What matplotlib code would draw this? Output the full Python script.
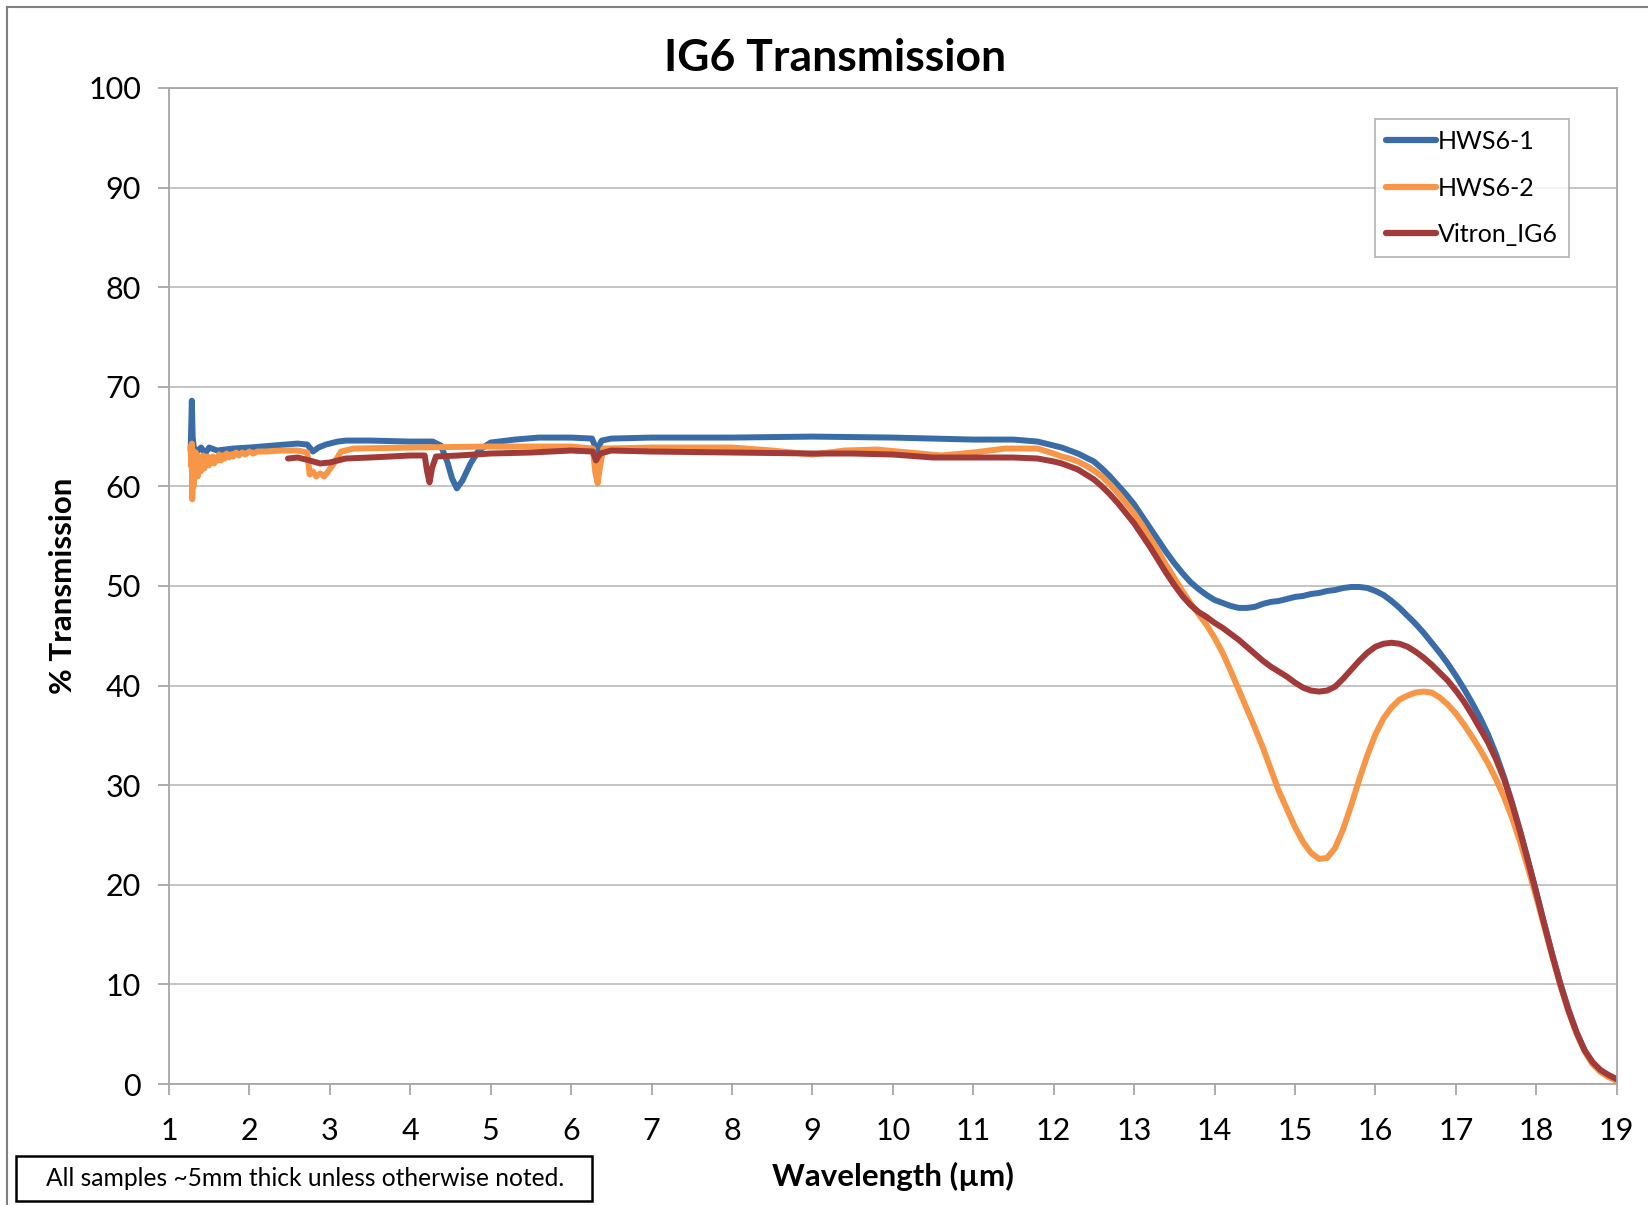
import matplotlib
matplotlib.use('Agg')
import matplotlib.pyplot as plt
from matplotlib.patches import Rectangle
from matplotlib.lines import Line2D

plt.rcParams['font.family'] = ['Lato', 'DejaVu Sans']

# (wavelength um, % transmission)
hws6_1 = [
    (1.27, 63.6), (1.285, 68.6), (1.295, 65.0), (1.31, 63.9), (1.35, 63.5), (1.40, 63.9),
    (1.45, 63.3), (1.50, 63.9), (1.6, 63.6), (1.8, 63.8), (2.0, 63.9), (2.3, 64.1),
    (2.6, 64.3), (2.72, 64.2), (2.79, 63.5), (2.86, 63.9), (2.95, 64.2), (3.1, 64.5),
    (3.2, 64.6), (3.5, 64.6), (4.0, 64.5), (4.28, 64.5), (4.38, 64.1), (4.46, 62.5),
    (4.52, 60.8), (4.58, 59.8), (4.65, 60.6), (4.75, 62.3), (4.85, 63.6), (5.0, 64.4),
    (5.3, 64.7), (5.6, 64.9), (6.0, 64.9), (6.26, 64.8), (6.32, 63.6), (6.38, 64.6),
    (6.5, 64.8), (7.0, 64.9), (8.0, 64.9), (9.0, 65.0), (10.0, 64.9), (11.0, 64.7),
    (11.5, 64.7), (11.8, 64.5),
    (12.0, 64.1), (12.1, 63.9), (12.2, 63.6), (12.3, 63.3), (12.4, 62.9), (12.5, 62.5),
    (12.6, 61.8), (12.7, 61.0), (12.8, 60.1), (12.9, 59.2), (13.0, 58.2), (13.1, 57.0),
    (13.2, 55.8), (13.3, 54.6), (13.4, 53.4), (13.5, 52.3), (13.6, 51.3), (13.7, 50.4),
    (13.8, 49.7), (13.9, 49.1), (14.0, 48.6), (14.1, 48.3), (14.2, 48.0), (14.3, 47.8),
    (14.4, 47.8), (14.5, 47.9), (14.6, 48.2), (14.7, 48.4), (14.8, 48.5), (14.9, 48.7),
    (15.0, 48.9), (15.1, 49.0), (15.2, 49.2), (15.3, 49.3), (15.4, 49.5), (15.5, 49.6),
    (15.6, 49.8), (15.7, 49.9), (15.8, 49.9), (15.9, 49.8), (16.0, 49.5), (16.1, 49.1),
    (16.2, 48.5), (16.3, 47.8), (16.4, 47.0), (16.5, 46.2), (16.6, 45.3), (16.7, 44.3),
    (16.8, 43.3), (16.9, 42.2), (17.0, 41.0), (17.1, 39.7), (17.2, 38.3), (17.3, 36.8),
    (17.4, 35.1), (17.5, 33.1), (17.6, 30.8), (17.7, 28.2), (17.8, 25.4), (17.9, 22.4),
    (18.0, 19.3), (18.1, 16.1), (18.2, 13.0), (18.3, 10.1), (18.4, 7.5), (18.5, 5.2),
    (18.6, 3.4), (18.7, 2.1), (18.8, 1.3), (18.9, 0.8), (19.0, 0.4),
]

hws6_2 = [
    (1.270, 64.0), (1.278, 62.0), (1.285, 64.3), (1.290, 58.7), (1.295, 61.5), (1.300, 63.6),
    (1.305, 60.0), (1.310, 63.2), (1.316, 60.8), (1.322, 62.9), (1.328, 61.2), (1.335, 63.4),
    (1.342, 61.6), (1.350, 62.7), (1.358, 61.0), (1.366, 62.9), (1.375, 61.8), (1.385, 63.0),
    (1.395, 61.5), (1.405, 62.6), (1.415, 62.0), (1.427, 63.1), (1.440, 61.8), (1.453, 62.7),
    (1.467, 62.2), (1.481, 63.0), (1.496, 62.1), (1.512, 62.8), (1.528, 62.4), (1.545, 63.0),
    (1.563, 62.3), (1.582, 62.9), (1.602, 62.6), (1.623, 63.2), (1.645, 62.6), (1.668, 63.1),
    (1.692, 62.8), (1.717, 63.3), (1.743, 62.9), (1.770, 63.2), (1.800, 63.0), (1.835, 63.4),
    (1.870, 63.1), (1.910, 63.4), (1.950, 63.2), (2.0, 63.5), (2.05, 63.3), (2.1, 63.5),
    (2.2, 63.5), (2.4, 63.6), (2.6, 63.6), (2.72, 63.4), (2.75, 61.2), (2.79, 61.5),
    (2.83, 61.0), (2.88, 61.3), (2.93, 61.0), (2.97, 61.4), (3.05, 62.3), (3.14, 63.5),
    (3.3, 63.8), (4.0, 63.9), (5.0, 64.0), (6.0, 64.0), (6.27, 63.8), (6.30, 61.5),
    (6.33, 60.3), (6.36, 62.0), (6.40, 63.8), (7.0, 63.9), (8.0, 63.9), (8.5, 63.6),
    (9.0, 63.2), (9.4, 63.6), (9.8, 63.7), (10.2, 63.4), (10.6, 63.1), (11.0, 63.4),
    (11.4, 63.8), (11.8, 63.8),
    (12.0, 63.3), (12.1, 63.0), (12.2, 62.8), (12.3, 62.5), (12.4, 62.1), (12.5, 61.6),
    (12.6, 61.0), (12.7, 60.2), (12.8, 59.3), (12.9, 58.3), (13.0, 57.3), (13.1, 56.1),
    (13.2, 54.8), (13.3, 53.5), (13.4, 52.1), (13.5, 50.8), (13.6, 49.5), (13.7, 48.3),
    (13.8, 47.2), (13.9, 46.1), (14.0, 44.8), (14.1, 43.3), (14.2, 41.5), (14.3, 39.6),
    (14.4, 37.7), (14.5, 35.8), (14.6, 33.8), (14.7, 31.6), (14.8, 29.4), (14.9, 27.6),
    (15.0, 25.8), (15.1, 24.3), (15.2, 23.2), (15.3, 22.6), (15.4, 22.7), (15.5, 23.7),
    (15.6, 25.6), (15.7, 28.0), (15.8, 30.6), (15.9, 33.0), (16.0, 35.1), (16.1, 36.7),
    (16.2, 37.8), (16.3, 38.6), (16.4, 39.0), (16.5, 39.3), (16.6, 39.4), (16.7, 39.3),
    (16.8, 38.8), (16.9, 38.1), (17.0, 37.2), (17.1, 36.1), (17.2, 34.9), (17.3, 33.6),
    (17.4, 32.2), (17.5, 30.6), (17.6, 28.8), (17.7, 26.7), (17.8, 24.3), (17.9, 21.6),
    (18.0, 18.8), (18.1, 15.8), (18.2, 12.8), (18.3, 9.9), (18.4, 7.3), (18.5, 5.1),
    (18.6, 3.3), (18.7, 2.0), (18.8, 1.2), (18.9, 0.7), (19.0, 0.3),
]

vitron_ig6 = [
    (2.48, 62.8), (2.6, 62.9), (2.75, 62.6), (2.88, 62.3), (3.0, 62.4), (3.2, 62.8),
    (3.5, 62.9), (4.0, 63.1), (4.18, 63.1), (4.21, 61.5), (4.24, 60.4), (4.27, 61.8),
    (4.32, 63.0), (4.6, 63.1), (5.0, 63.3), (5.5, 63.4), (6.0, 63.6), (6.27, 63.5),
    (6.31, 62.6), (6.36, 63.3), (6.5, 63.6), (7.0, 63.5), (8.0, 63.4), (9.0, 63.3),
    (9.5, 63.3), (10.0, 63.2), (10.5, 62.9), (11.0, 62.9), (11.5, 62.9), (11.8, 62.8),
    (12.0, 62.5), (12.1, 62.3), (12.2, 62.0), (12.3, 61.7), (12.4, 61.2), (12.5, 60.7),
    (12.6, 60.0), (12.7, 59.2), (12.8, 58.3), (12.9, 57.3), (13.0, 56.3), (13.1, 55.1),
    (13.2, 53.9), (13.3, 52.6), (13.4, 51.3), (13.5, 50.1), (13.6, 49.0), (13.7, 48.1),
    (13.8, 47.4), (13.9, 46.9), (14.0, 46.3), (14.1, 45.8), (14.2, 45.2), (14.3, 44.6),
    (14.4, 43.9), (14.5, 43.2), (14.6, 42.5), (14.7, 41.9), (14.8, 41.4), (14.9, 40.9),
    (15.0, 40.3), (15.1, 39.8), (15.2, 39.5), (15.3, 39.4), (15.4, 39.5), (15.5, 39.9),
    (15.6, 40.7), (15.7, 41.6), (15.8, 42.5), (15.9, 43.3), (16.0, 43.9), (16.1, 44.2),
    (16.2, 44.3), (16.3, 44.2), (16.4, 43.9), (16.5, 43.4), (16.6, 42.8), (16.7, 42.1),
    (16.8, 41.3), (16.9, 40.5), (17.0, 39.5), (17.1, 38.4), (17.2, 37.1), (17.3, 35.7),
    (17.4, 34.3), (17.5, 32.6), (17.6, 30.6), (17.7, 28.1), (17.8, 25.3), (17.9, 22.3),
    (18.0, 19.2), (18.1, 16.0), (18.2, 12.9), (18.3, 10.0), (18.4, 7.4), (18.5, 5.2),
    (18.6, 3.4), (18.7, 2.2), (18.8, 1.4), (18.9, 0.9), (19.0, 0.5),
]

names = ['HWS6-1', 'HWS6-2', 'Vitron_IG6']
colors = ['#3A6DA8', '#F79646', '#A33A3A']
x_ticks = list(range(1, 20))
y_ticks = list(range(0, 101, 10))

fig = plt.figure(figsize=(16.48, 12.05), dpi=100)
ax = fig.add_axes([0.1025, 0.1004, 0.8785, 0.8266])

for name, data, c in zip(names, [hws6_1, hws6_2, vitron_ig6], colors):
    x = [p[0] for p in data]
    y = [p[1] for p in data]
    ax.plot(x, y, color=c, linewidth=4.3, label=name, solid_capstyle='round',
            solid_joinstyle='round')

ax.set_xlim(1, 19)
ax.set_ylim(0, 100)
ax.set_xticks(x_ticks)
ax.set_yticks(y_ticks)
ax.grid(True, axis='y', color='#BFBFBF', linewidth=1.3)
ax.set_axisbelow(True)
for s in ax.spines.values():
    s.set_color('#A6A6A6')
    s.set_linewidth(1.3)
ax.tick_params(axis='both', colors='#A6A6A6', labelcolor='black', length=8, width=1.3,
               labelsize=22)
ax.tick_params(axis='x', pad=16)
ax.tick_params(axis='y', pad=12)

fig.text(0.507, 0.952, 'IG6 Transmission', fontsize=32, fontweight='bold',
         ha='center', va='center')
ax.set_ylabel('% Transmission', fontsize=22.5, fontweight='bold', labelpad=8)
ax.set_xlabel('Wavelength (\u00b5m)', fontsize=22.5, fontweight='bold', labelpad=12)

leg = ax.legend(loc='upper right', bbox_to_anchor=(0.967, 0.969), fontsize=18,
                handlelength=2.0, handletextpad=0.05, labelspacing=0.94,
                borderpad=0.45, borderaxespad=0, frameon=True, fancybox=False)
leg.get_frame().set_edgecolor('#A6A6A6')
leg.get_frame().set_linewidth(1.3)
for h in leg.get_lines():
    h.set_linewidth(4.5)

# note box at the bottom left
fig.text(0.185, 0.022, 'All samples ~5mm thick unless otherwise noted.', fontsize=17.7,
         ha='center', va='center')
fig.patches.append(Rectangle((0.0097, 0.0033), 0.3495, 0.0374, transform=fig.transFigure,
                             fill=False, edgecolor='black', linewidth=1.8))

# slide frame
fig.lines.append(Line2D([0.004, 1.0], [0.994, 0.994], transform=fig.transFigure,
                        color='#808080', linewidth=1.5))
fig.lines.append(Line2D([0.004, 0.004], [0.0, 0.994], transform=fig.transFigure,
                        color='#808080', linewidth=1.5))

fig.savefig('out.png', dpi=100)
